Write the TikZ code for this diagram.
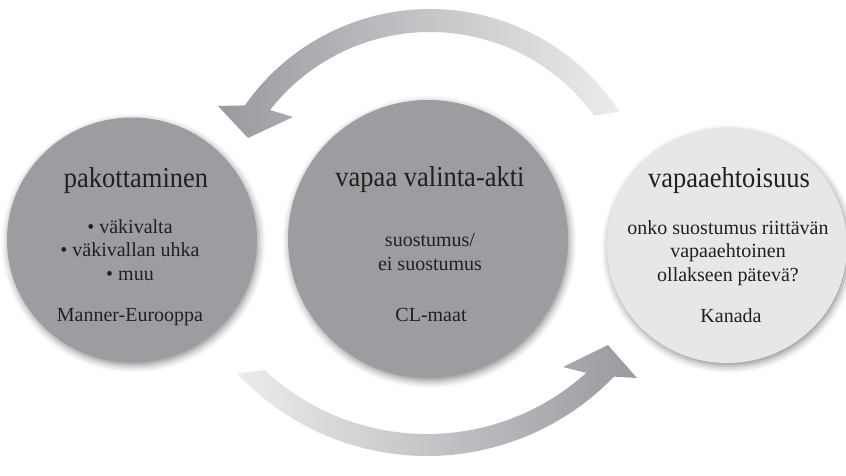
\documentclass[tikz,border=0pt]{standalone}
\usepackage{fontspec}
\setmainfont{Liberation Serif}
\newfontfamily\headfont[FakeStretch=0.92]{Liberation Serif}
\usepackage{tikz}
\usetikzlibrary{shapes.geometric,shadows.blur,calc}

\definecolor{discgray}{RGB}{156,157,161}
\definecolor{disclight}{RGB}{231,231,233}
\definecolor{arrowdark}{RGB}{153,154,158}
\definecolor{arrowlight}{RGB}{236,236,238}
\definecolor{inkgray}{RGB}{35,31,32}

\newcommand{\headsize}{\headfont\fontsize{28.8}{32}\selectfont}
\newcommand{\bodysize}{\fontsize{20}{23.5}\selectfont}

\begin{document}
\begin{tikzpicture}[
  x=1pt, y=-1pt,
  disc/.style={ellipse, inner sep=0pt, draw=none,
    blur shadow={shadow xshift=1.5pt, shadow yshift=-3pt, shadow blur radius=7pt, shadow opacity=45}},
  heading/.style={anchor=base, text=inkgray, font=\headsize},
  body/.style={anchor=base, align=center, text=inkgray, font=\bodysize}
]
  \useasboundingbox (0,0) rectangle (846,475);

  % kiertonuolet
  \shade[left color=arrowdark, middle color=arrowdark!75!arrowlight, right color=arrowlight, shading angle=90]
    (430,235) ++(-33:226) arc[start angle=-33, end angle=-145, radius=226]
    -- (218,106) -- (248,138) -- (293,117)
    -- ($(430,235)+(-142:203)$) arc[start angle=-142, end angle=-36, radius=203] -- cycle;
  \shade[left color=arrowlight, middle color=arrowdark!80!arrowlight, right color=arrowdark]
    (427,196) ++(137:260) arc[start angle=137, end angle=44, radius=260]
    -- (637,378) -- (608,345) -- (563,367)
    -- ($(427,196)+(48:238)$) arc[start angle=48, end angle=133, radius=238] -- cycle;

  % ympyrat
  \foreach \n/\x/\y/\w/\h/\c in {pak/132/240/250/245/discgray, akti/428/239/280/278/discgray, vapaa/727/246/240/234/disclight} {
    \node[disc, fill=\c, minimum width=\w, minimum height=\h] (\n) at (\x,\y) {};
  }

  % tekstit (monirivisissa base = viimeinen rivi)
  \node[heading] (pakTitle) at (136,187) {pakottaminen};
  \node[body] (pakList) at (130,280) {• väkivalta\\• väkivallan uhka\\• muu};
  \node[body] (pakArea) at (130,321) {Manner-Eurooppa};

  \node[heading] (aktiTitle) at (430,186) {vapaa valinta-akti};
  \node[body] (aktiText) at (430,270) {suostumus/\\ei suostumus};
  \node[body] (aktiArea) at (431,321) {CL-maat};

  \node[heading] (vapaaTitle) at (729,187) {vapaaehtoisuus};
  \node[body] (vapaaText) at (728,281) {onko suostumus riittävän\\vapaaehtoinen\\ollakseen pätevä?};
  \node[body] (vapaaArea) at (731,322) {Kanada};
\end{tikzpicture}
\end{document}
